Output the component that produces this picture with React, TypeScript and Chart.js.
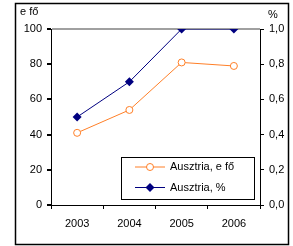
import React, { useEffect, useRef } from "react";
import { Chart, registerables } from "chart.js";

Chart.register(...registerables);

const years = ["2003", "2004", "2005", "2006"];
const persons = [41, 54, 81, 79];
const percent = [0.5, 0.7, 1.0, 1.0];
const leftTicks = [0, 20, 40, 60, 80, 100];
const rightTicks = [0, 0.2, 0.4, 0.6, 0.8, 1.0];
const seriesNames = ["Ausztria, e fő", "Ausztria, %"];
const leftTitle = "e fő";
const rightTitle = "%";

const ORANGE = "#FF7F27";
const NAVY = "#000080";
const FONT = "Liberation Sans, Arial, sans-serif";

export default function App() {
  const ref = useRef<HTMLCanvasElement>(null);
  useEffect(() => {
    if (!ref.current) return;
    const framePlugin = {
      id: "frame",
      afterDraw(chart: any) {
        const ctx = chart.ctx;
        ctx.save();
        ctx.strokeStyle = "#000";
        ctx.lineWidth = 1.5;
        ctx.strokeRect(15.5, 3.5, 273, 241);
        ctx.fillStyle = "#000";
        ctx.font = `11px ${FONT}`;
        ctx.textBaseline = "middle";
        ctx.textAlign = "left";
        ctx.fillText(leftTitle, 20, 12);
        ctx.fillText(rightTitle, 268, 15);
        // legend
        const bx = 121.5, by = 157.5, bw = 133, bh = 42;
        ctx.fillStyle = "#fff";
        ctx.fillRect(bx, by, bw, bh);
        ctx.strokeStyle = "#000";
        ctx.lineWidth = 1;
        ctx.strokeRect(bx, by, bw, bh);
        const rows = [
          { y: 167, color: ORANGE, name: seriesNames[0], kind: "circle" },
          { y: 187.5, color: NAVY, name: seriesNames[1], kind: "diamond" },
        ];
        rows.forEach((r) => {
          ctx.strokeStyle = r.color;
          ctx.lineWidth = 1;
          ctx.beginPath();
          ctx.moveTo(135, r.y);
          ctx.lineTo(165, r.y);
          ctx.stroke();
          if (r.kind === "circle") {
            ctx.beginPath();
            ctx.arc(150, r.y, 3.5, 0, Math.PI * 2);
            ctx.fillStyle = "#fff";
            ctx.fill();
            ctx.stroke();
          } else {
            ctx.beginPath();
            ctx.moveTo(150, r.y - 4.5);
            ctx.lineTo(154.5, r.y);
            ctx.lineTo(150, r.y + 4.5);
            ctx.lineTo(145.5, r.y);
            ctx.closePath();
            ctx.fillStyle = r.color;
            ctx.fill();
          }
          ctx.fillStyle = "#000";
          ctx.fillText(r.name, 170, r.y);
        });
        ctx.restore();
      },
    };
    const chart = new Chart(ref.current, {
      type: "line",
      data: {
        labels: years,
        datasets: [
          {
            label: seriesNames[0],
            data: persons,
            yAxisID: "y",
            borderColor: ORANGE,
            backgroundColor: "#fff",
            borderWidth: 1,
            pointStyle: "circle",
            pointRadius: 3.5,
            pointBorderWidth: 1,
            pointBorderColor: ORANGE,
            pointBackgroundColor: "#fff",
          },
          {
            label: seriesNames[1],
            data: percent,
            yAxisID: "y1",
            borderColor: NAVY,
            backgroundColor: NAVY,
            borderWidth: 1,
            pointStyle: "rectRot",
            pointRadius: 4.5,
            pointBorderWidth: 0,
            pointBackgroundColor: NAVY,
          },
        ],
      },
      options: {
        responsive: false,
        animation: false,
        layout: { padding: { top: 29, left: 0, right: 0, bottom: 0 } },
        plugins: { legend: { display: false }, tooltip: { enabled: false } },
        scales: {
          x: {
            offset: true,
            grid: {
              offset: true,
              color: "rgba(0,0,0,0)",
              tickColor: "#000",
              tickLength: 4,
            },
            border: { display: true, color: "#000", width: 1 },
            ticks: { color: "#000", font: { family: FONT, size: 11 }, padding: 8, maxRotation: 0 },
            afterFit(scale: any) {
              scale.height = 41;
            },
          },
          y: {
            position: "left",
            min: 0,
            max: 100,
            afterBuildTicks(scale: any) {
              scale.ticks = leftTicks.map((v) => ({ value: v }));
            },
            grid: {
              color: (c: any) => (c.tick && c.tick.value === 100 ? "#a0a0a0" : "rgba(0,0,0,0)"),
              lineWidth: 2,
              tickColor: "#000",
              tickLength: 4,
            },
            border: { display: true, color: "#000", width: 1 },
            ticks: { color: "#000", font: { family: FONT, size: 11 }, padding: 5 },
            afterFit(scale: any) {
              scale.width = 51;
            },
          },
          y1: {
            position: "right",
            min: 0,
            max: 1,
            afterBuildTicks(scale: any) {
              scale.ticks = rightTicks.map((v) => ({ value: v }));
            },
            grid: { drawOnChartArea: false, tickColor: "#000", tickLength: 4 },
            border: { display: true, color: "#000", width: 1 },
            ticks: {
              color: "#000",
              font: { family: FONT, size: 11 },
              padding: 5,
              callback: (v: any) => Number(v).toFixed(1).replace(".", ","),
            },
            afterFit(scale: any) {
              scale.width = 33;
            },
          },
        },
      },
      plugins: [framePlugin],
    });
    return () => chart.destroy();
  }, []);
  return (
    <div style={{ position: "fixed", left: 0, top: 0, width: 293, height: 246, background: "#fff" }}>
      <canvas ref={ref} width={293} height={246} style={{ display: "block" }} />
    </div>
  );
}
